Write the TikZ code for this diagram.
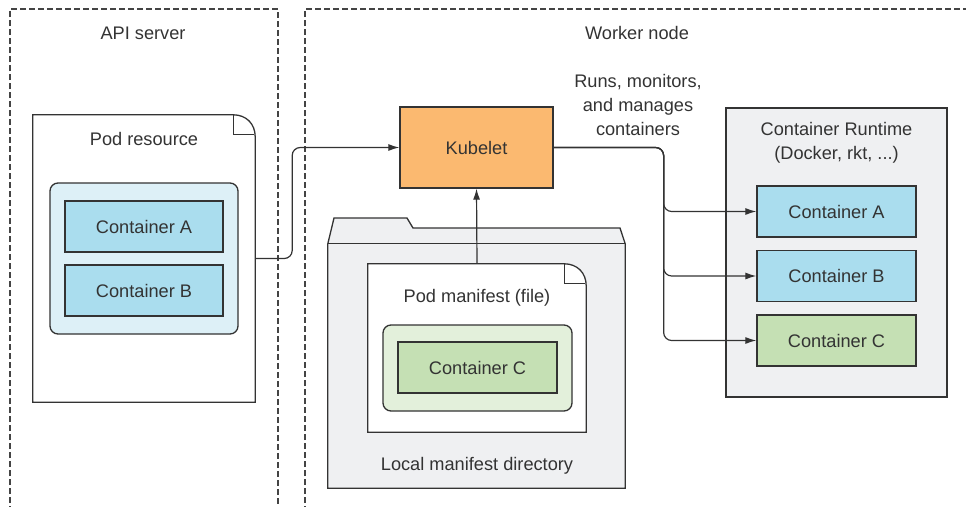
\documentclass[tikz,border=0pt]{standalone}
\usepackage{fontspec}
\setmainfont{Liberation Sans}
\usetikzlibrary{arrows.meta,calc}
\definecolor{txt}{HTML}{333333}
\definecolor{edge}{HTML}{333333}
\definecolor{cblue}{HTML}{AADDEE}
\definecolor{pblue}{HTML}{DDF0F7}
\definecolor{cgreen}{HTML}{C5E0B4}
\definecolor{pgreen}{HTML}{E3F0DB}
\definecolor{kub}{HTML}{FBB970}
\definecolor{lgray}{HTML}{EFF0F2}
\definecolor{dash}{HTML}{444444}
\tikzset{
  every node/.style={text=txt, font=\fontsize{18.2}{24}\selectfont},
  box/.style={draw=edge, line width=1.3pt, inner sep=0pt, rectangle},
  cont/.style={box, fill=cblue},
  contg/.style={box, fill=cgreen},
  podbox/.style={box, rounded corners=8pt},
  lbl/.style={inner sep=0pt, align=center},
  ghost/.style={inner sep=0pt, draw=none, rectangle},
  conn/.style={draw=edge, line width=1.2pt, rounded corners=8pt, -{Latex[length=11pt,width=7pt]}},
  zone/.style={draw=dash, line width=1.2pt, dash pattern=on 6pt off 3pt},
}
\begin{document}
\begin{tikzpicture}[x=1pt,y=-1pt]
\useasboundingbox (0,0) rectangle (966,506);

% dashed zones
\draw[zone] (10,512) -- (10,9) -- (278,9) -- (278,512);
\draw[zone] (305,512) -- (305,9) -- (972,9);
\node[lbl] (apit) at (143,33) {API server};
\node[lbl] (wnt) at (637,33) {Worker node};

% Pod resource document
\node[ghost, minimum width=222pt, minimum height=287pt] (podres) at (144,258.5) {};
\draw[box, fill=white] (podres.north west) -- ($(podres.north east)+(-22,0)$)
  .. controls ($(podres.north east)+(-9,0)$) and ($(podres.north east)+(0,9)$) .. ($(podres.north east)+(0,22)$)
  -- (podres.south east) -- (podres.south west) -- cycle;
\draw[box] ($(podres.north east)+(-22,0)$) -- ($(podres.north east)+(-22,20)$) -- ($(podres.north east)+(-1,20)$);
\node[lbl] (podrest) at (144,139) {Pod resource};
\node[podbox, fill=pblue, minimum width=188pt, minimum height=151pt] (podab) at (144,258.5) {};
\node[cont, minimum width=158pt, minimum height=51pt] (pa) at (144,226.5) {Container A};
\node[cont, minimum width=158pt, minimum height=51pt] (pb) at (144,290.5) {Container B};

% Kubelet
\node[box, fill=kub, minimum width=153pt, minimum height=81pt] (kub) at (476.5,147.5) {Kubelet};

% Folder
\node[ghost, minimum width=297pt, minimum height=244pt] (folder) at (476.5,366) {};
\draw[box, fill=lgray] (folder.north west) -- (334,218) -- (407,218) -- (413,228) -- (620,228) -- (folder.north east) -- (folder.south east) -- (folder.south west) -- cycle;
\draw[box] (folder.north west) -- (folder.north east);
\node[lbl] (foldert) at (477,466) {Local manifest directory};

% Pod manifest document
\node[ghost, minimum width=218pt, minimum height=168pt] (man) at (477,348) {};
\draw[box, fill=white] (man.north west) -- ($(man.north east)+(-22,0)$)
  .. controls ($(man.north east)+(-9,0)$) and ($(man.north east)+(0,9)$) .. ($(man.north east)+(0,22)$)
  -- (man.south east) -- (man.south west) -- cycle;
\draw[box] ($(man.north east)+(-22,0)$) -- ($(man.north east)+(-22,20)$) -- ($(man.north east)+(-1,20)$);
\node[lbl] (mant) at (477,298) {Pod manifest (file)};
\node[podbox, fill=pgreen, minimum width=189pt, minimum height=86pt] (manc) at (477.5,368) {};
\node[contg, minimum width=159pt, minimum height=51pt] (mc) at (477.5,367.5) {Container C};

% Container runtime
\node[box, fill=lgray, minimum width=221pt, minimum height=289pt] (rt) at (836.5,252.5) {};
\node[lbl] (rtt) at (836.5,143) {Container Runtime\\(Docker, rkt, ...)};
\node[cont, minimum width=159pt, minimum height=51pt] (ra) at (836.5,211.5) {Container A};
\node[cont, minimum width=159pt, minimum height=51pt] (rb) at (836.5,276) {Container B};
\node[contg, minimum width=159pt, minimum height=51pt] (rc) at (836.5,340.5) {Container C};

\node[lbl] (runs) at (638,105) {Runs, monitors,\\and manages\\containers};

% connectors
\draw[conn] (podres.east) -- ++(37,0) |- (kub.west);
\draw[conn] (man.north) -- (kub.south);
\draw[conn] (kub.east) -- ++(110,0) |- (ra.west);
\draw[conn] (kub.east) -- ++(110,0) |- (rb.west);
\draw[conn] (kub.east) -- ++(110,0) |- (rc.west);
\end{tikzpicture}
\end{document}
